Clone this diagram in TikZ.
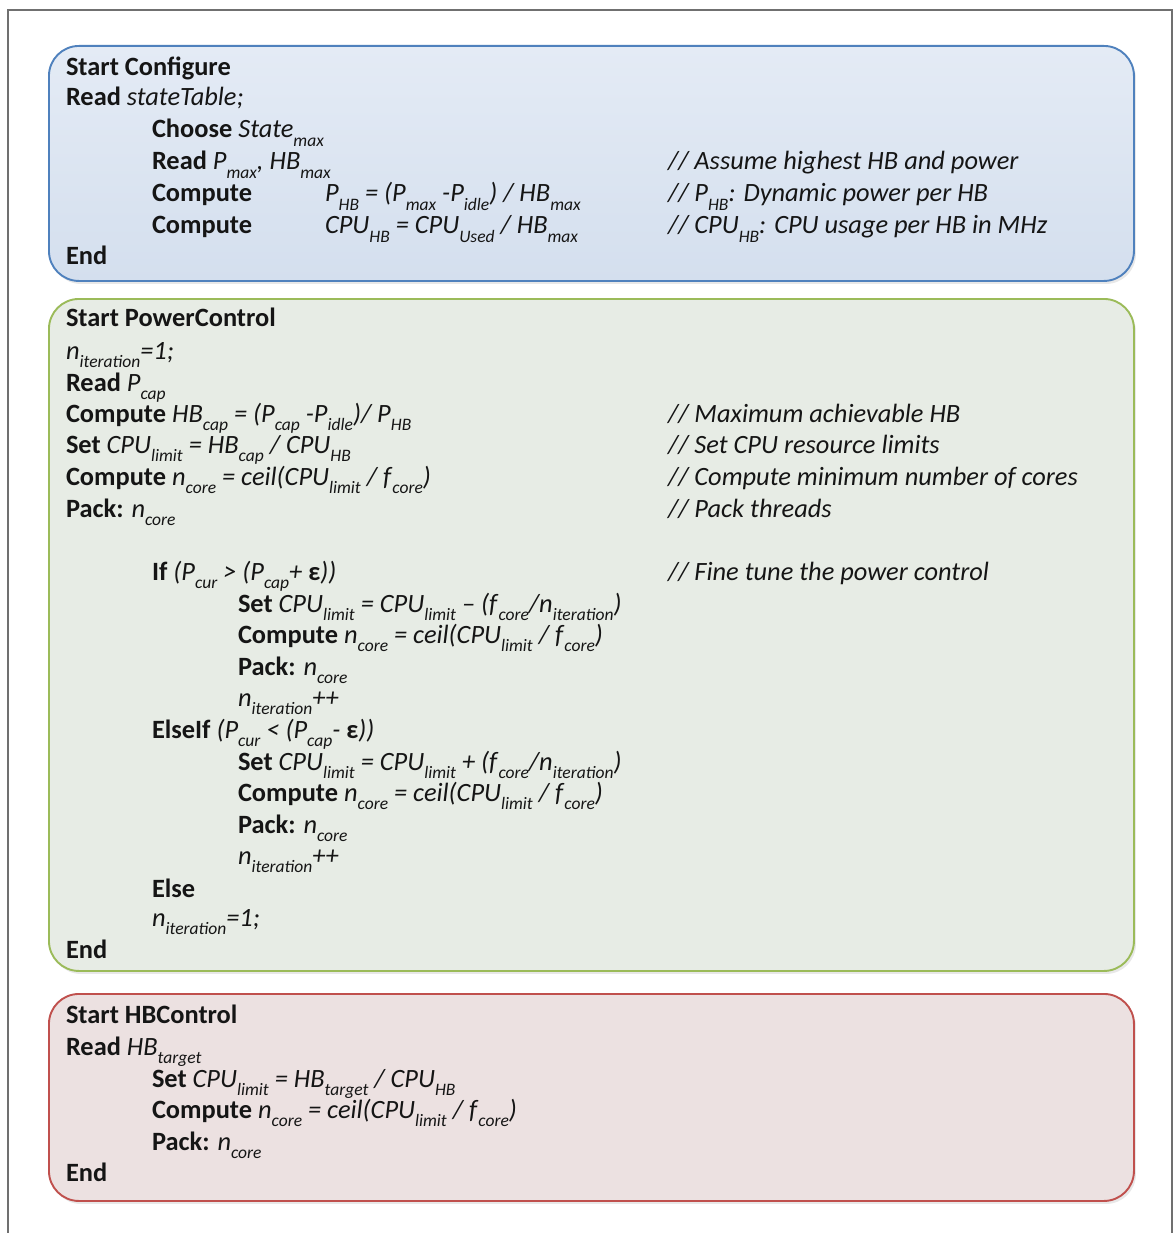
\documentclass[tikz,border=0pt]{standalone}
\usepackage{fontspec}
\setmainfont{Carlito}
\usetikzlibrary{shadows}
\definecolor{txtc}{HTML}{151515}
\definecolor{bluebd}{HTML}{4F81BD}
\definecolor{bluetop}{HTML}{E4EBF5}
\definecolor{bluebot}{HTML}{D4DFEE}
\definecolor{greenbd}{HTML}{9BBB59}
\definecolor{greenfill}{HTML}{E7ECE5}
\definecolor{redbd}{HTML}{C0504D}
\definecolor{redfill}{HTML}{ECE1E1}
\definecolor{framec}{HTML}{707070}
\newcommand\sbx[1]{\raisebox{-0.32em}{\fontsize{17.5}{17.5}\selectfont\itshape #1}}
\newcommand\tit[1]{\textit{#1}}
\begin{document}
\begin{tikzpicture}[x=1pt,y=-1pt,
  txt/.style={anchor=base west,inner sep=0pt,outer sep=0pt,text=txtc,font=\fontsize{26.4}{30}\selectfont},
  boxbase/.style={rounded corners=30pt,line width=1.9pt,drop shadow={shadow xshift=2pt,shadow yshift=-3pt,opacity=0.18}},
  bluebox/.style={boxbase,draw=bluebd,top color=bluetop,bottom color=bluebot},
  greenbox/.style={boxbase,draw=greenbd,fill=greenfill},
  redbox/.style={boxbase,draw=redbd,fill=redfill}]
\useasboundingbox (0,0) rectangle (1175,1233);
\fill[white] (0,0) rectangle (1175,1233);
\draw[framec,line width=1.3pt] (8,1233) -- (8,10) -- (1172,10) -- (1172,1233);

% boxes
\node[bluebox,anchor=north west,minimum width=1085pt,minimum height=235pt,inner sep=0pt] (cfg) at (48,45) {};
\node[greenbox,anchor=north west,minimum width=1085pt,minimum height=672pt,inner sep=0pt] (pc) at (48,298) {};
\node[redbox,anchor=north west,minimum width=1085pt,minimum height=207pt,inner sep=0pt] (hb) at (48,993) {};

% Configure
\node[txt] (c1) at (66,76) {\textbf{Start Configure}};
\node[txt] (c2) at (66,106) {\textbf{Read} \tit{stateTable;}};
\node[txt] (c3) at (152,138) {\textbf{Choose} \tit{State}\sbx{max}};
\node[txt] (c4) at (152,170) {\textbf{Read} \tit{P}\sbx{max}\tit{, HB}\sbx{max}};
\node[txt] (c5) at (152,202) {\textbf{Compute}};
\node[txt] (c5f) at (325,202) {\tit{P}\sbx{HB}\tit{ = (P}\sbx{max}\tit{ -P}\sbx{idle}\tit{) / HB}\sbx{max}};
\node[txt] (c6) at (152,234) {\textbf{Compute}};
\node[txt] (c6f) at (325,234) {\tit{CPU}\sbx{HB}\tit{ = CPU}\sbx{Used}\tit{ / HB}\sbx{max}};
\node[txt] (c7) at (66,264) {\textbf{End}};
\node[txt] (cc1) at (668,170) {\tit{// Assume highest HB and power}};
\node[txt] (cc2) at (668,202) {\tit{// P}\sbx{HB}\tit{: Dynamic power per HB}};
\node[txt] (cc3) at (668,234) {\tit{// CPU}\sbx{HB}\tit{: CPU usage per HB in MHz}};

% PowerControl
\node[txt] (p1) at (66,326) {\textbf{Start PowerControl}};
\node[txt] (p2) at (66,359) {\tit{n}\sbx{iteration}\tit{=1;}};
\node[txt] (p3) at (66,391) {\textbf{Read} \tit{P}\sbx{cap}};
\node[txt] (p4) at (66,422) {\textbf{Compute} \tit{HB}\sbx{cap}\tit{ = (P}\sbx{cap}\tit{ -P}\sbx{idle}\tit{)/ P}\sbx{HB}};
\node[txt] (p5) at (66,453) {\textbf{Set} \tit{CPU}\sbx{limit}\tit{ = HB}\sbx{cap}\tit{ / CPU}\sbx{HB}};
\node[txt] (p6) at (66,485) {\textbf{Compute} \tit{n}\sbx{core}\tit{ = ceil(CPU}\sbx{limit}\tit{ / f}\sbx{core}\tit{)}};
\node[txt] (p7) at (66,517) {\textbf{Pack:} \tit{n}\sbx{core}};
\node[txt] (pc1) at (668,422) {\tit{// Maximum achievable HB}};
\node[txt] (pc2) at (668,453) {\tit{// Set CPU resource limits}};
\node[txt] (pc3) at (668,485) {\tit{// Compute minimum number of cores}};
\node[txt] (pc4) at (668,517) {\tit{// Pack threads}};
\node[txt] (p8) at (152,580) {\textbf{If} \tit{(P}\sbx{cur}\tit{ > (P}\sbx{cap}\tit{+ }\textbf{ε}\tit{))}};
\node[txt] (pc5) at (668,580) {\tit{// Fine tune the power control}};
\node[txt] (p9) at (238,612) {\textbf{Set} \tit{CPU}\sbx{limit}\tit{ = CPU}\sbx{limit}\tit{ – (f}\sbx{core}\tit{/n}\sbx{iteration}\tit{)}};
\node[txt] (p10) at (238,643) {\textbf{Compute} \tit{n}\sbx{core}\tit{ = ceil(CPU}\sbx{limit}\tit{ / f}\sbx{core}\tit{)}};
\node[txt] (p11) at (238,675) {\textbf{Pack:} \tit{n}\sbx{core}};
\node[txt] (p12) at (238,706) {\tit{n}\sbx{iteration}\tit{++}};
\node[txt] (p13) at (152,738) {\textbf{ElseIf} \tit{(P}\sbx{cur}\tit{ < (P}\sbx{cap}\tit{- }\textbf{ε}\tit{))}};
\node[txt] (p14) at (238,770) {\textbf{Set} \tit{CPU}\sbx{limit}\tit{ = CPU}\sbx{limit}\tit{ + (f}\sbx{core}\tit{/n}\sbx{iteration}\tit{)}};
\node[txt] (p15) at (238,801) {\textbf{Compute} \tit{n}\sbx{core}\tit{ = ceil(CPU}\sbx{limit}\tit{ / f}\sbx{core}\tit{)}};
\node[txt] (p16) at (238,833) {\textbf{Pack:} \tit{n}\sbx{core}};
\node[txt] (p17) at (238,864) {\tit{n}\sbx{iteration}\tit{++}};
\node[txt] (p18) at (152,897) {\textbf{Else}};
\node[txt] (p19) at (152,926) {\tit{n}\sbx{iteration}\tit{=1;}};
\node[txt] (p20) at (66,958) {\textbf{End}};

% HBControl
\node[txt] (h1) at (66,1023) {\textbf{Start HBControl}};
\node[txt] (h2) at (66,1055) {\textbf{Read} \tit{HB}\sbx{target}};
\node[txt] (h3) at (152,1087) {\textbf{Set} \tit{CPU}\sbx{limit}\tit{ = HB}\sbx{target}\tit{ / CPU}\sbx{HB}};
\node[txt] (h4) at (152,1118) {\textbf{Compute} \tit{n}\sbx{core}\tit{ = ceil(CPU}\sbx{limit}\tit{ / f}\sbx{core}\tit{)}};
\node[txt] (h5) at (152,1150) {\textbf{Pack:} \tit{n}\sbx{core}};
\node[txt] (h6) at (66,1181) {\textbf{End}};
\end{tikzpicture}
\end{document}
